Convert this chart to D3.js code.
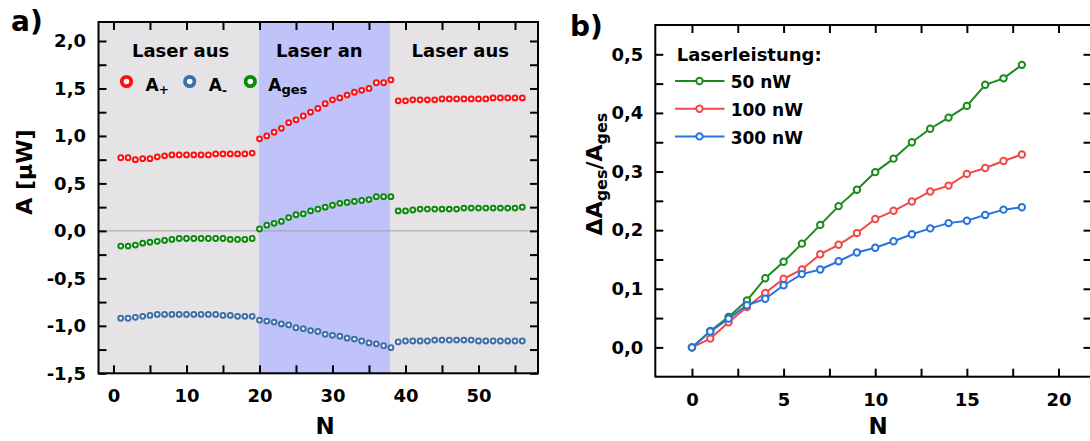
<!DOCTYPE html>
<html>
<head>
<meta charset="utf-8">
<script src="https://cdn.jsdelivr.net/npm/d3@7"></script>
<style>
  html, body { margin: 0; padding: 0; background: #fff; }
  svg text { font-family: "DejaVu Sans", sans-serif; font-weight: bold; fill: #000; }
</style>
</head>
<body>
<svg id="fig" width="1090" height="441"></svg>
<script>
// ---------- Panel a: amplitudes per cycle N ----------
const nOff1 = [1,2,3,4,5,6,7,8,9,10,11,12,13,14,15,16,17,18,19];
const nOn   = [20,21,22,23,24,25,26,27,28,29,30,31,32,33,34,35,36,37,38];
const nOff2 = [39,40,41,42,43,44,45,46,47,48,49,50,51,52,53,54,55,56];

const aPlusOff1 = [0.77,0.77,0.75,0.76,0.76,0.78,0.79,0.80,0.80,0.80,0.80,0.80,0.80,0.81,0.81,0.81,0.81,0.81,0.82];
const aPlusOn   = [0.97,1.00,1.04,1.08,1.14,1.17,1.21,1.25,1.29,1.34,1.38,1.40,1.43,1.46,1.48,1.50,1.56,1.56,1.59];
const aPlusOff2 = [1.37,1.37,1.38,1.38,1.38,1.38,1.39,1.39,1.39,1.39,1.39,1.39,1.39,1.40,1.40,1.40,1.40,1.40];

const aMinusOff1 = [-0.92,-0.92,-0.91,-0.90,-0.89,-0.88,-0.88,-0.88,-0.88,-0.88,-0.88,-0.88,-0.88,-0.88,-0.89,-0.89,-0.90,-0.90,-0.90];
const aMinusOn   = [-0.94,-0.95,-0.96,-0.98,-0.99,-1.02,-1.03,-1.05,-1.06,-1.09,-1.10,-1.11,-1.13,-1.14,-1.16,-1.18,-1.19,-1.21,-1.23];
const aMinusOff2 = [-1.17,-1.16,-1.16,-1.16,-1.16,-1.15,-1.15,-1.15,-1.15,-1.15,-1.15,-1.16,-1.16,-1.16,-1.16,-1.16,-1.16,-1.16];

const aGesOff1 = [-0.16,-0.16,-0.15,-0.13,-0.12,-0.11,-0.10,-0.09,-0.08,-0.08,-0.08,-0.08,-0.08,-0.08,-0.08,-0.09,-0.09,-0.09,-0.08];
const aGesOn   = [0.02,0.06,0.08,0.10,0.14,0.17,0.18,0.21,0.23,0.25,0.27,0.29,0.30,0.31,0.32,0.33,0.36,0.36,0.36];
const aGesOff2 = [0.21,0.21,0.22,0.23,0.23,0.23,0.23,0.23,0.23,0.24,0.24,0.24,0.24,0.24,0.24,0.24,0.24,0.25];

// laser phases in units of N
const phaseLabels = ["Laser aus", "Laser an", "Laser aus"];
const phaseBounds = [-2.05, 19.9, 37.9, 58.15];
const phaseLabelN = [9.2, 28.2, 47.5];

const ticksAY = [-1.5,-1.0,-0.5,0.0,0.5,1.0,1.5,2.0];
const ticksAYMinor = [-1.25,-0.75,-0.25,0.25,0.75,1.25,1.75];
const ticksAX = [0,10,20,30,40,50];
const ticksAXMinor = [5,15,25,35,45,55];

// ---------- Panel b: relative change vs N ----------
const nB = [0,1,2,3,4,5,6,7,8,9,10,11,12,13,14,15,16,17,18];
const rel50  = [0,0.028,0.052,0.080,0.118,0.146,0.177,0.209,0.241,0.269,0.299,0.322,0.350,0.373,0.392,0.412,0.448,0.459,0.482];
const rel100 = [0,0.015,0.043,0.069,0.093,0.117,0.133,0.159,0.175,0.195,0.219,0.233,0.249,0.266,0.276,0.296,0.306,0.318,0.329];
const rel300 = [0,0.027,0.049,0.072,0.083,0.106,0.125,0.133,0.147,0.162,0.170,0.181,0.193,0.203,0.212,0.216,0.226,0.235,0.239];
const powerLabels = ["50 nW", "100 nW", "300 nW"];

const ticksBY = [0.0,0.1,0.2,0.3,0.4,0.5];
const ticksBYMinor = [0.05,0.15,0.25,0.35,0.45];
const ticksBX = [0,5,10,15,20];
const ticksBXMinor = [2.5,7.5,12.5,17.5];

// ---------- helpers ----------
const svg = d3.select("#fig");
const loc = d3.formatLocale({decimal: ",", thousands: ".", grouping: [3], currency: ["", ""], minus: "-"});
const fmt1 = loc.format(".1f");
const fmtInt = loc.format("d");
const FONT = '"DejaVu Sans", sans-serif';

function styleAxis(g, fontSize) {
  g.select(".domain").remove();
  g.attr("font-family", FONT).attr("font-size", fontSize).attr("font-weight", "bold");
  g.selectAll("line").attr("stroke", "#000").attr("stroke-width", 2);
  g.selectAll("text").attr("fill", "#000");
}

function frameAxes(root, x, y, opts) {
  const [x0, x1] = x.range();
  const [y0, y1] = y.range(); // y0 bottom, y1 top
  const T = 8;
  // bottom
  root.append("g").attr("transform", `translate(0,${y0})`)
    .call(d3.axisBottom(x).tickValues(opts.xMajor).tickSize(-T).tickPadding(opts.xPad).tickFormat(opts.xFmt))
    .call(g => styleAxis(g, 18));
  root.append("g").attr("transform", `translate(0,${y0})`)
    .call(d3.axisBottom(x).tickValues(opts.xMinor).tickSize(-T).tickFormat(""))
    .call(g => styleAxis(g, 18));
  // top
  root.append("g").attr("transform", `translate(0,${y1})`)
    .call(d3.axisTop(x).tickValues(opts.xMajor.concat(opts.xMinor)).tickSize(-T).tickFormat(""))
    .call(g => styleAxis(g, 18));
  // left
  root.append("g").attr("transform", `translate(${x0},0)`)
    .call(d3.axisLeft(y).tickValues(opts.yMajor).tickSize(-T).tickPadding(opts.yPad).tickFormat(opts.yFmt))
    .call(g => styleAxis(g, 18));
  root.append("g").attr("transform", `translate(${x0},0)`)
    .call(d3.axisLeft(y).tickValues(opts.yMinor).tickSize(-T).tickFormat(""))
    .call(g => styleAxis(g, 18));
  // right
  root.append("g").attr("transform", `translate(${x1},0)`)
    .call(d3.axisRight(y).tickValues(opts.yMajor.concat(opts.yMinor)).tickSize(-T).tickFormat(""))
    .call(g => styleAxis(g, 18));
  // frame
  root.append("rect")
    .attr("x", x0).attr("y", y1).attr("width", x1 - x0).attr("height", y0 - y1)
    .attr("fill", "none").attr("stroke", "#000").attr("stroke-width", 2);
}

// ================= Panel a =================
{
  const x = d3.scaleLinear().domain([-2.05, 58.15]).range([98.5, 538]);
  const y = d3.scaleLinear().domain([-1.5, 2.2]).range([373.3, 22]);
  const g = svg.append("g");

  const phaseColors = ["#e6e3e7", "#c0c3f9", "#e6e3e7"];
  phaseLabels.forEach((lab, i) => {
    g.append("rect")
      .attr("x", x(phaseBounds[i])).attr("y", y(2.2))
      .attr("width", x(phaseBounds[i + 1]) - x(phaseBounds[i]))
      .attr("height", y(-1.5) - y(2.2))
      .attr("fill", phaseColors[i]);
  });

  // zero line
  g.append("line")
    .attr("x1", x(-2.05)).attr("x2", x(58.15)).attr("y1", y(0)).attr("y2", y(0))
    .attr("stroke", "#a3a3a3").attr("stroke-width", 1);

  const series = [
    {color: "#ff1010", parts: [[nOff1, aPlusOff1], [nOn, aPlusOn], [nOff2, aPlusOff2]]},
    {color: "#3e6fa6", parts: [[nOff1, aMinusOff1], [nOn, aMinusOn], [nOff2, aMinusOff2]]},
    {color: "#0b8a0b", parts: [[nOff1, aGesOff1], [nOn, aGesOn], [nOff2, aGesOff2]]}
  ];
  series.forEach(s => {
    s.parts.forEach(([ns, vs]) => {
      g.append("g").selectAll("circle").data(ns).join("circle")
        .attr("cx", d => x(d)).attr("cy", (d, i) => y(vs[i])).attr("r", 2.4)
        .attr("fill", "#fff").attr("stroke", s.color).attr("stroke-width", 2);
    });
  });

  frameAxes(g, x, y, {
    xMajor: ticksAX, xMinor: ticksAXMinor, xPad: 15.5, xFmt: fmtInt,
    yMajor: ticksAY, yMinor: ticksAYMinor, yPad: 12.5, yFmt: fmt1
  });

  // phase labels
  phaseLabels.forEach((lab, i) => {
    g.append("text").attr("x", x(phaseLabelN[i])).attr("y", 56.7)
      .attr("text-anchor", "middle").attr("font-size", 18).text(lab);
  });

  // legend
  const legA = [
    {color: "#ff1010", cx: 126.5, tx: 145.5, sub: "+", dy: 3},
    {color: "#3e6fa6", cx: 189.7, tx: 208.8, sub: "-", dy: 4},
    {color: "#0b8a0b", cx: 250.3, tx: 268.3, sub: "ges", dy: 3}
  ];
  legA.forEach(l => {
    g.append("circle").attr("cx", l.cx).attr("cy", 81.5).attr("r", 4.7)
      .attr("fill", "#fff").attr("stroke", l.color).attr("stroke-width", 3.8);
    const t = g.append("text").attr("x", l.tx).attr("y", 90.5).attr("font-size", 17).text("A");
    t.append("tspan").attr("dy", l.dy).attr("font-size", l.sub === "ges" ? 13 : 12).text(l.sub);
  });

  // axis titles
  g.append("text").attr("transform", "translate(31.5,172) rotate(-90)")
    .attr("text-anchor", "middle").attr("font-size", 22).text("A [µW]");
  g.append("text").attr("x", 325).attr("y", 434)
    .attr("text-anchor", "middle").attr("font-size", 23).text("N");
  g.append("text").attr("x", 11).attr("y", 31).attr("font-size", 28).text("a)");
}

// ================= Panel b =================
{
  const x = d3.scaleLinear().domain([-2, 21.8]).range([655.3, 1091.5]);
  const y = d3.scaleLinear().domain([-0.05, 0.55]).range([376.7, 25]);
  const g = svg.append("g");

  const lines = [
    {vals: rel50, color: "#1c8a1c"},
    {vals: rel100, color: "#f24848"},
    {vals: rel300, color: "#2773e0"}
  ];
  const lineGen = d3.line().x(d => x(d[0])).y(d => y(d[1]));
  lines.forEach(s => {
    const pts = nB.map((n, i) => [n, s.vals[i]]);
    g.append("path").attr("d", lineGen(pts))
      .attr("fill", "none").attr("stroke", s.color).attr("stroke-width", 2);
    g.append("g").selectAll("circle").data(pts).join("circle")
      .attr("cx", d => x(d[0])).attr("cy", d => y(d[1])).attr("r", 3.2)
      .attr("fill", "#fff").attr("stroke", s.color).attr("stroke-width", 2);
  });

  frameAxes(g, x, y, {
    xMajor: ticksBX, xMinor: ticksBXMinor, xPad: 16.5, xFmt: fmtInt,
    yMajor: ticksBY, yMinor: ticksBYMinor, yPad: 12, yFmt: fmt1
  });

  // legend
  g.append("text").attr("x", 676.7).attr("y", 61).attr("font-size", 18).text("Laserleistung:");
  lines.forEach((s, i) => {
    const ly = 81 + i * 27.7;
    g.append("line").attr("x1", 675).attr("x2", 724.5).attr("y1", ly).attr("y2", ly)
      .attr("stroke", s.color).attr("stroke-width", 2);
    g.append("circle").attr("cx", 699.5).attr("cy", ly).attr("r", 3.2)
      .attr("fill", "#fff").attr("stroke", s.color).attr("stroke-width", 2);
    g.append("text").attr("x", 730.7).attr("y", ly + 7.3).attr("font-size", 17).text(powerLabels[i]);
  });

  // axis titles
  const yt = g.append("text").attr("transform", "translate(602,174) rotate(-90)")
    .attr("text-anchor", "middle").attr("font-size", 22);
  yt.append("tspan").text("ΔA");
  yt.append("tspan").attr("dy", 5).attr("font-size", 16).text("ges");
  yt.append("tspan").attr("dy", -5).text("/A");
  yt.append("tspan").attr("dy", 5).attr("font-size", 16).text("ges");

  g.append("text").attr("x", 878).attr("y", 434)
    .attr("text-anchor", "middle").attr("font-size", 23).text("N");
  g.append("text").attr("x", 570).attr("y", 35.5).attr("font-size", 28).text("b)");
}
</script>
</body>
</html>
